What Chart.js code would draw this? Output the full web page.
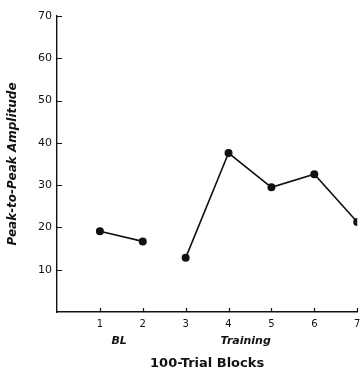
<!DOCTYPE html>
<html><head><meta charset="utf-8">
<script src="https://cdn.jsdelivr.net/npm/chart.js@4/dist/chart.umd.min.js"></script>
<style>html,body{margin:0;padding:0;background:#fff}#wrap{width:362px;height:374px}</style>
</head><body><div id="wrap"><canvas id="c"></canvas></div>
<script>
const baselineBlocks = [1, 2];
const baselineValues = [19.1, 16.7];
const trainingBlocks = [3, 4, 5, 6, 7];
const trainingValues = [12.8, 37.6, 29.5, 32.6, 21.3];
const yTicks = [10, 20, 30, 40, 50, 60, 70];
const xTicks = [1, 2, 3, 4, 5, 6, 7];
const phaseLabels = ['BL', 'Training'];
const phasePositions = [1.45, 4.4];

const FONT = '"DejaVu Sans", "Liberation Sans", sans-serif';
const toPts = (xs, ys) => xs.map((x, i) => ({x: x, y: ys[i]}));

const extras = {
  id: 'extras',
  afterDraw(chart) {
    const ctx = chart.ctx, xs = chart.scales.x, ys = chart.scales.y;
    const a = chart.chartArea;
    ctx.save();
    ctx.strokeStyle = '#111'; ctx.lineWidth = 1.2;
    ctx.beginPath();
    yTicks.forEach(v => { const p = Math.round(ys.getPixelForValue(v)) + 0.5; ctx.moveTo(a.left, p); ctx.lineTo(a.left + 5, p); });
    xTicks.forEach(v => { const p = Math.round(xs.getPixelForValue(v)) + 0.5; ctx.moveTo(p, a.bottom); ctx.lineTo(p, a.bottom - 4); });
    ctx.stroke();
    ctx.fillStyle = '#111';
    ctx.font = 'italic bold 11px ' + FONT;
    ctx.textAlign = 'center'; ctx.textBaseline = 'middle';
    phaseLabels.forEach((t, i) => ctx.fillText(t, xs.getPixelForValue(phasePositions[i]), a.bottom + 29));
    ctx.restore();
  }
};

new Chart(document.getElementById('c'), {
  type: 'line',
  data: {
    datasets: [
      {data: toPts(baselineBlocks, baselineValues)},
      {data: toPts(trainingBlocks, trainingValues)}
    ].map(d => Object.assign(d, {
      borderColor: '#111', backgroundColor: '#111', borderWidth: 1.6,
      pointRadius: 3.2, pointHoverRadius: 3.2, tension: 0, fill: false
    }))
  },
  options: {
    responsive: true, maintainAspectRatio: false, animation: false,
    layout: {padding: {top: 16, right: 1, left: 0, bottom: 0}},
    plugins: {legend: {display: false}, tooltip: {enabled: false}},
    scales: {
      x: {
        type: 'linear', min: 0, max: 7,
        afterFit(s) { s.height = 62; s.paddingLeft = 0; s.paddingRight = 0; },
        border: {display: true, color: '#111', width: 1.4},
        grid: {display: false, drawTicks: false},
        ticks: {stepSize: 1, padding: 6, color: '#111', font: {family: FONT, size: 10},
          callback: v => (xTicks.includes(v) ? String(v) : '')},
        title: {display: true, text: '100-Trial Blocks', color: '#111',
          font: {family: FONT, size: 13, weight: 'bold'}, padding: {top: 0, bottom: 3}}
      },
      y: {
        min: 0, max: 70,
        afterFit(s) { s.width = 57; },
        border: {display: true, color: '#111', width: 1.4},
        grid: {display: false, drawTicks: false},
        ticks: {stepSize: 10, padding: 5, color: '#111', font: {family: FONT, size: 11},
          callback: v => (yTicks.includes(v) ? String(v) : '')},
        title: {display: true, text: 'Peak-to-Peak Amplitude', color: '#111',
          font: {family: FONT, size: 12, weight: 'bold', style: 'italic'}, padding: {top: 6, bottom: 0}}
      }
    }
  },
  plugins: [extras]
});
</script></body></html>
